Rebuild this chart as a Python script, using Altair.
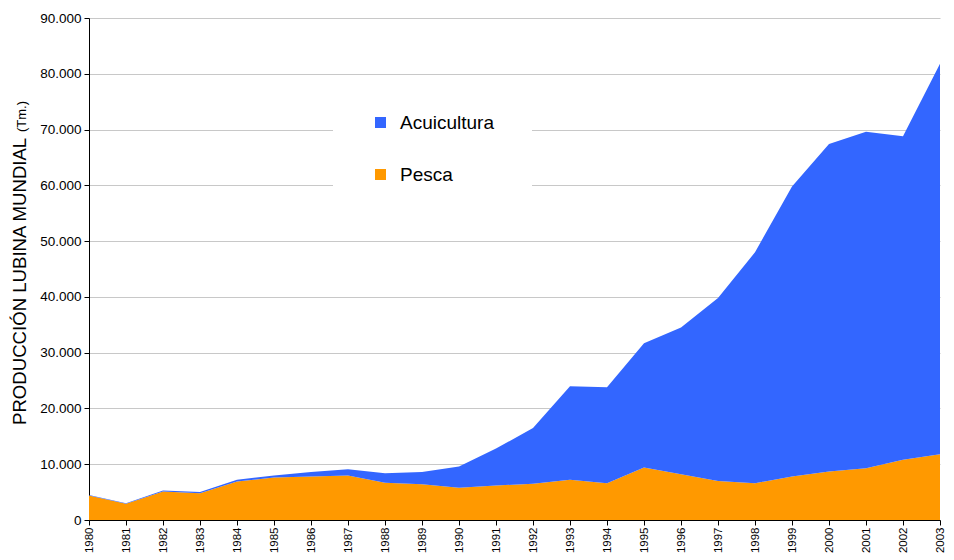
import altair as alt
import pandas as pd

years = list(range(1980, 2004))
pesca = [4.4, 2.9, 5.1, 4.8, 6.9, 7.6, 7.8, 8.0, 6.7, 6.4, 5.8, 6.2,
         6.5, 7.2, 6.6, 9.4, 8.2, 7.0, 6.6, 7.8, 8.7, 9.3, 10.8, 11.8]
acuicultura = [0.1, 0.1, 0.2, 0.2, 0.3, 0.4, 0.8, 1.1, 1.7, 2.2, 3.8, 6.6,
               10.0, 16.8, 17.2, 22.3, 26.3, 32.8, 41.4, 52.0, 58.7, 60.3, 58.0, 70.0]
series = ["Acuicultura", "Pesca"]
colors = ["#3366FF", "#FF9900"]

rows = []
for y, p, a in zip(years, pesca, acuicultura):
    rows.append({"year": y, "serie": "Pesca", "value": p * 1000, "ord": 0})
    rows.append({"year": y, "serie": "Acuicultura", "value": a * 1000, "ord": 1})
df = pd.DataFrame(rows)

FONT = "Liberation Sans"

area = alt.Chart(df).mark_area(opacity=1).encode(
    x=alt.X("year:Q",
            scale=alt.Scale(domain=[1980, 2003], nice=False, zero=False),
            axis=alt.Axis(values=years, format="d", title=None, grid=False,
                          labelAngle=270, labelAlign="right", labelBaseline="middle",
                          labelFontSize=11.5, labelColor="#000000", labelPadding=2,
                          tickSize=5, tickColor="#000000", domainColor="#000000",
                          labelFont=FONT, labelOverlap=False)),
    y=alt.Y("value:Q", stack="zero",
            scale=alt.Scale(domain=[0, 90000], nice=False),
            axis=alt.Axis(values=list(range(0, 90001, 10000)), title=None,
                          labelExpr="replace(format(datum.value, ',d'), ',', '.')",
                          labelFontSize=13.5, labelColor="#000000", labelPadding=3,
                          tickSize=5, tickColor="#000000", domainColor="#000000",
                          gridColor="#C8C8C8", gridWidth=1.2, labelFont=FONT)),
    color=alt.Color("serie:N",
                    scale=alt.Scale(domain=series, range=colors),
                    legend=alt.Legend(title=None, orient="none", legendX=244, legendY=57,
                                      fillColor="white", padding=38,
                                      symbolType="square", symbolSize=121,
                                      symbolStrokeWidth=0, labelFontSize=19,
                                      labelFont=FONT, labelColor="#000000",
                                      labelOffset=10, rowPadding=32)),
    order=alt.Order("ord:Q", sort="ascending"),
)

title_main = alt.Chart(pd.DataFrame({"t": ["PRODUCCIÓN LUBINA MUNDIAL"]})).mark_text(
    angle=270, align="left", baseline="alphabetic", fontSize=18.6, font=FONT, color="#000000"
).encode(text="t:N", x=alt.value(-63), y=alt.value(407))

title_unit = alt.Chart(pd.DataFrame({"t": ["(Tm.)"]})).mark_text(
    angle=270, align="left", baseline="alphabetic", fontSize=13, font=FONT, color="#000000"
).encode(text="t:N", x=alt.value(-63), y=alt.value(114))

chart = alt.layer(area, title_main, title_unit).properties(
    width=851, height=502,
    autosize=alt.AutoSizeParams(type="none"),
    padding={"left": 81, "top": 10, "right": 6, "bottom": 36},
).configure_view(stroke=None)

chart.save("out.html", embed_options={"renderer": "svg", "actions": False})
